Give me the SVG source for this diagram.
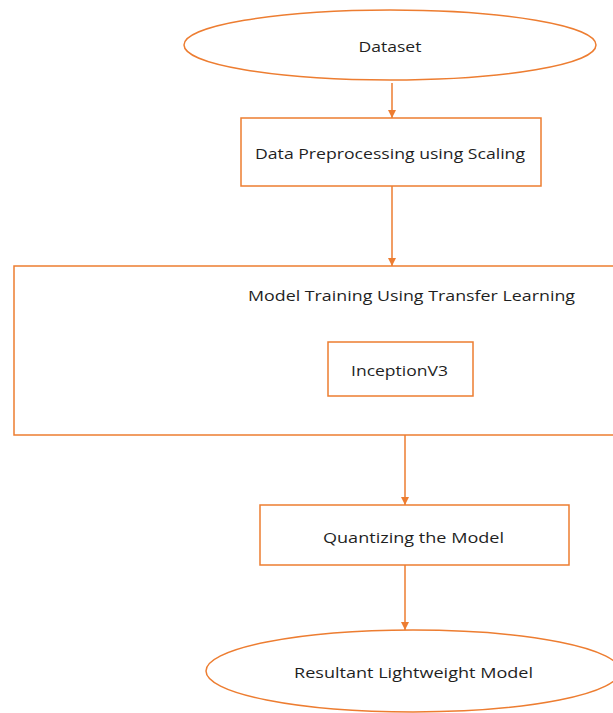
<svg xmlns="http://www.w3.org/2000/svg" width="613" height="713" viewBox="0 0 613 713">
<style>
.s{fill:#fff;stroke:#ED7D31;stroke-width:1.5}
.t{font-family:"Open Sans","Liberation Sans",sans-serif;font-size:15px;fill:#1f1f1f;text-anchor:middle}
.c{stroke:#ED7D31;stroke-width:1.5;fill:none}
</style>
<defs>
<marker id="ah" viewBox="0 0 10 10" refX="10" refY="5" markerWidth="8" markerHeight="8" markerUnits="userSpaceOnUse" orient="auto">
<path d="M0,0 L10,5 L0,10 z" fill="#ED7D31"/>
</marker>
</defs>
<rect width="613" height="713" fill="#fff"/>
<g id="dataset">
<ellipse class="s" cx="390" cy="45" rx="206" ry="35"/>
<text class="t" x="390" y="51.5" textLength="63" lengthAdjust="spacingAndGlyphs">Dataset</text>
</g>
<g id="preprocessing">
<rect class="s" x="241" y="118" width="300" height="68"/>
<text class="t" x="390" y="158.5" textLength="270" lengthAdjust="spacingAndGlyphs">Data Preprocessing using Scaling</text>
</g>
<g id="training">
<rect class="s" x="14" y="266" width="610" height="169"/>
<text class="t" x="411.5" y="301" textLength="327" lengthAdjust="spacingAndGlyphs">Model Training Using Transfer Learning</text>
</g>
<g id="inception">
<rect class="s" x="328" y="342" width="145" height="54"/>
<text class="t" x="399.5" y="376" textLength="97" lengthAdjust="spacingAndGlyphs">InceptionV3</text>
</g>
<g id="quantizing">
<rect class="s" x="260" y="505" width="309" height="60"/>
<text class="t" x="413.5" y="542.5" textLength="181" lengthAdjust="spacingAndGlyphs">Quantizing the Model</text>
</g>
<g id="result">
<ellipse class="s" cx="413" cy="671" rx="207" ry="41"/>
<text class="t" x="413.5" y="677.5" textLength="239" lengthAdjust="spacingAndGlyphs">Resultant Lightweight Model</text>
</g>
<g id="connectors">
<line class="c" x1="392" y1="83" x2="392" y2="118" marker-end="url(#ah)"/>
<line class="c" x1="392" y1="186" x2="392" y2="266" marker-end="url(#ah)"/>
<line class="c" x1="405" y1="435" x2="405" y2="505" marker-end="url(#ah)"/>
<line class="c" x1="405" y1="565" x2="405" y2="630" marker-end="url(#ah)"/>
</g>
</svg>
